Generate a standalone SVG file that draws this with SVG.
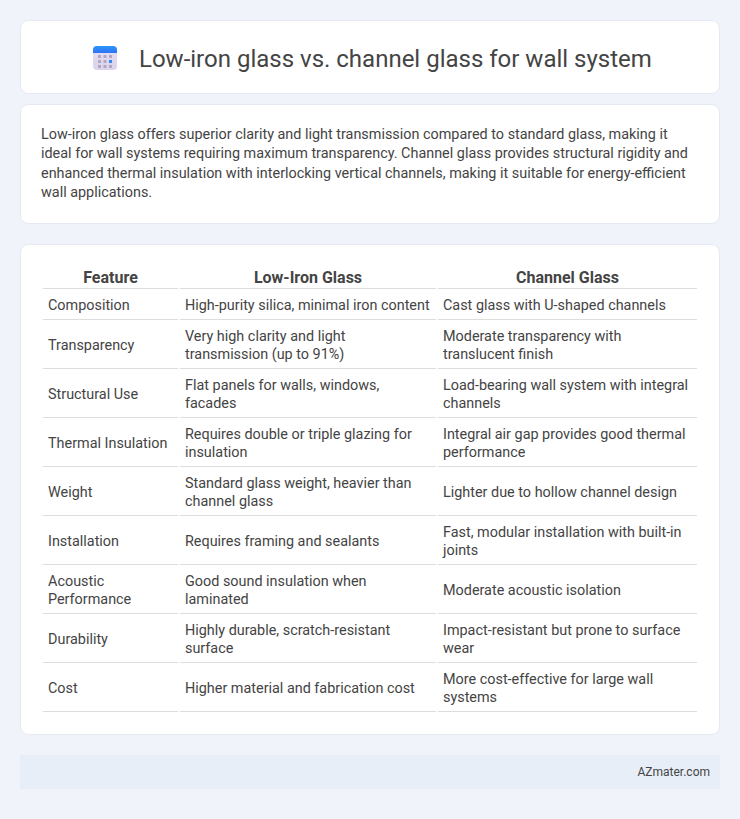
<svg xmlns="http://www.w3.org/2000/svg" width="740" height="819" viewBox="0 0 740 819">
<style>
text{font-family:Roboto,"Liberation Sans",sans-serif;fill:#444}
.card{fill:#fff;stroke:#e5e9f2;stroke-width:1}
.b{font-size:14.4px;fill:#444}
.c{font-size:14.4px;fill:#444}
.h{font-size:16px;font-weight:700;text-anchor:middle;fill:#444}
.l{fill:#ddd}
</style>
<defs><linearGradient id="g" x1="0" y1="0" x2="0" y2="1"><stop offset="0" stop-color="#e6dff3"/><stop offset="1" stop-color="#dcd3ec"/></linearGradient>
<linearGradient id="t" x1="0" y1="0" x2="0" y2="1"><stop offset="0" stop-color="#2b95fb"/><stop offset="1" stop-color="#2f74f5"/></linearGradient></defs>
<rect width="740" height="819" fill="#f0f3f9"/>
<g id="title">
<rect class="card" x="20.500" y="20.500" width="699" height="73" rx="8"/>
<g id="icon">
<rect x="93" y="46" width="24" height="24" rx="4" fill="url(#g)"/>
<path d="M93 53V50a4 4 0 0 1 4-4h16a4 4 0 0 1 4 4v3z" fill="url(#t)"/>
<g fill="#b0a7c2"><rect x="98" y="55" width="3" height="3"/><rect x="103.500" y="55" width="3" height="3"/><rect x="109" y="55" width="3" height="3"/><rect x="98" y="60" width="3" height="3"/><rect x="103.500" y="60" width="3" height="3"/><rect x="98" y="65" width="3" height="3"/><rect x="103.500" y="65" width="3" height="3"/><rect x="109" y="65" width="3" height="3"/></g>
<rect x="109" y="60" width="3" height="3" fill="#2f8bf8"/>
</g>
<text x="139" y="67" font-size="24">Low-iron glass vs. channel glass for wall system</text>
</g>
<g id="summary">
<rect class="card" x="20.500" y="104.500" width="699" height="119" rx="8"/>
<text class="b" x="41" y="139">Low-iron glass offers superior clarity and light transmission compared to standard glass, making it</text>
<text class="b" x="41" y="158">ideal for wall systems requiring maximum transparency. Channel glass provides structural rigidity and</text>
<text class="b" x="41" y="178">enhanced thermal insulation with interlocking vertical channels, making it suitable for energy-efficient</text>
<text class="b" x="41" y="197">wall applications.</text>
</g>
<g id="table">
<rect class="card" x="20.500" y="244.500" width="699" height="490" rx="8"/>
<text class="h" x="110.500" y="283">Feature</text><text class="h" x="308" y="283">Low-Iron Glass</text><text class="h" x="567.500" y="283">Channel Glass</text>
<g class="l">
<rect x="43" y="288" width="135" height="1"/><rect x="180" y="288" width="256" height="1"/><rect x="438" y="288" width="259" height="1"/>
<rect x="43" y="319" width="135" height="1"/><rect x="180" y="319" width="256" height="1"/><rect x="438" y="319" width="259" height="1"/>
<rect x="43" y="368" width="135" height="1"/><rect x="180" y="368" width="256" height="1"/><rect x="438" y="368" width="259" height="1"/>
<rect x="43" y="417" width="135" height="1"/><rect x="180" y="417" width="256" height="1"/><rect x="438" y="417" width="259" height="1"/>
<rect x="43" y="466" width="135" height="1"/><rect x="180" y="466" width="256" height="1"/><rect x="438" y="466" width="259" height="1"/>
<rect x="43" y="515" width="135" height="1"/><rect x="180" y="515" width="256" height="1"/><rect x="438" y="515" width="259" height="1"/>
<rect x="43" y="564" width="135" height="1"/><rect x="180" y="564" width="256" height="1"/><rect x="438" y="564" width="259" height="1"/>
<rect x="43" y="613" width="135" height="1"/><rect x="180" y="613" width="256" height="1"/><rect x="438" y="613" width="259" height="1"/>
<rect x="43" y="662" width="135" height="1"/><rect x="180" y="662" width="256" height="1"/><rect x="438" y="662" width="259" height="1"/>
<rect x="43" y="711" width="135" height="1"/><rect x="180" y="711" width="256" height="1"/><rect x="438" y="711" width="259" height="1"/>
</g>
<g class="c">
<text x="48" y="310">Composition</text><text x="185" y="310">High-purity silica, minimal iron content</text><text x="443" y="310">Cast glass with U-shaped channels</text>
<text x="48" y="350">Transparency</text><text x="185" y="341">Very high clarity and light</text><text x="185" y="359">transmission (up to 91%)</text><text x="443" y="341">Moderate transparency with</text><text x="443" y="359">translucent finish</text>
<text x="48" y="399">Structural Use</text><text x="185" y="390">Flat panels for walls, windows,</text><text x="185" y="408">facades</text><text x="443" y="390">Load-bearing wall system with integral</text><text x="443" y="408">channels</text>
<text x="48" y="448">Thermal Insulation</text><text x="185" y="439">Requires double or triple glazing for</text><text x="185" y="457">insulation</text><text x="443" y="439">Integral air gap provides good thermal</text><text x="443" y="457">performance</text>
<text x="48" y="497">Weight</text><text x="185" y="488">Standard glass weight, heavier than</text><text x="185" y="506">channel glass</text><text x="443" y="497">Lighter due to hollow channel design</text>
<text x="48" y="546">Installation</text><text x="185" y="546">Requires framing and sealants</text><text x="443" y="537">Fast, modular installation with built-in</text><text x="443" y="555">joints</text>
<text x="48" y="586">Acoustic</text><text x="48" y="604">Performance</text><text x="185" y="586">Good sound insulation when</text><text x="185" y="604">laminated</text><text x="443" y="595">Moderate acoustic isolation</text>
<text x="48" y="644">Durability</text><text x="185" y="635">Highly durable, scratch-resistant</text><text x="185" y="653">surface</text><text x="443" y="635">Impact-resistant but prone to surface</text><text x="443" y="653">wear</text>
<text x="48" y="693">Cost</text><text x="185" y="693">Higher material and fabrication cost</text><text x="443" y="684">More cost-effective for large wall</text><text x="443" y="702">systems</text>
</g>
</g>
<g id="footer">
<rect x="20" y="755" width="700" height="34" fill="#e8eef8"/>
<text x="710" y="776" font-size="12" text-anchor="end">AZmater.com</text>
</g>
</svg>
